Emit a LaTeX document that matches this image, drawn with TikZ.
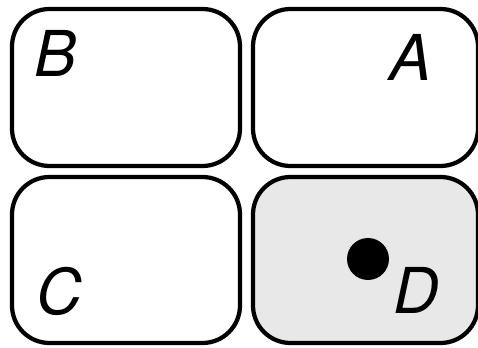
\documentclass[tikz,border=0pt]{standalone}
\usepackage{fontspec}
\setsansfont{TeX Gyre Heros}
\usepackage{xcolor}
\usepackage{tikz}
\usetikzlibrary{shapes}
\definecolor{shade}{gray}{0.91}

\begin{document}
\begin{tikzpicture}[x=0.02cm,y=-0.02cm,
 region/.style={draw,line width=0.085cm,rounded corners=0.75cm,inner sep=0pt,outer sep=0pt},
 tag/.style={font=\sffamily\itshape\fontsize{36}{40}\selectfont,inner sep=0pt}]
\useasboundingbox(0,0)rectangle(478,348);
\node[region,minimum width=228*0.02cm,minimum height=157*0.02cm](B)at(126,87.5){};
\node[region,minimum width=225*0.02cm,minimum height=157*0.02cm](A)at(365.5,87.5){};
\node[region,minimum width=228*0.02cm,minimum height=166*0.02cm](C)at(126,260){};
\node[region,fill=shade,minimum width=225*0.02cm,minimum height=166*0.02cm](D)at(365.5,260){};
\node[tag](lblB)at(56,53){B};
\node[tag](lblA)at(411,57){A};
\node[tag](lblC)at(59,291){C};
\node[tag](lblD)at(416,290){D};
\node[shape=circle,fill=black,minimum size=0.84cm,inner sep=0pt](dot)at(368,259){};
\end{tikzpicture}
\end{document}
